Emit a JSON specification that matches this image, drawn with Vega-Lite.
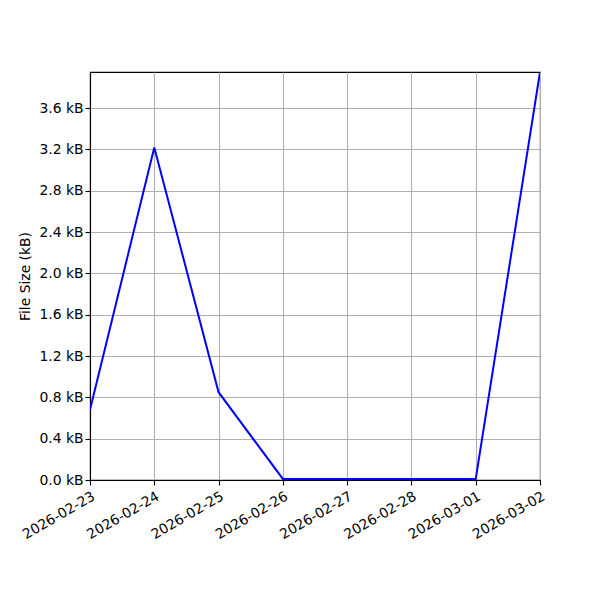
{
  "$schema": "https://vega.github.io/schema/vega-lite/v6.json",
  "autosize": "none",
  "width": 450,
  "height": 408,
  "padding": {"left": 90, "top": 72, "right": 60, "bottom": 120},
  "background": "white",
  "data": {
    "values": [
      {"date": "2026-02-23", "size_kb": 0.68},
      {"date": "2026-02-24", "size_kb": 3.22},
      {"date": "2026-02-25", "size_kb": 0.85},
      {"date": "2026-02-26", "size_kb": 0.01},
      {"date": "2026-02-27", "size_kb": 0.01},
      {"date": "2026-02-28", "size_kb": 0.01},
      {"date": "2026-03-01", "size_kb": 0.01},
      {"date": "2026-03-02", "size_kb": 3.95}
    ]
  },
  "mark": {"type": "line", "color": "#0000ff", "strokeWidth": 2, "clip": true},
  "encoding": {
    "x": {
      "field": "date",
      "type": "temporal",
      "scale": {"type": "utc", "domain": ["2026-02-23", "2026-03-02"], "nice": false},
      "axis": {
        "title": null,
        "values": ["2026-02-23", "2026-02-24", "2026-02-25", "2026-02-26", "2026-02-27", "2026-02-28", "2026-03-01", "2026-03-02"],
        "labelExpr": "utcFormat(datum.value, '%Y-%m-%d')",
        "labelAngle": -30,
        "labelAlign": "right",
        "labelBaseline": "top",
        "labelPadding": 4,
        "labelFlush": false,
        "labelOverlap": false
      }
    },
    "y": {
      "field": "size_kb",
      "type": "quantitative",
      "scale": {"domain": [0, 3.95], "nice": false, "zero": false},
      "axis": {
        "title": "File Size (kB)",
        "values": [0, 0.4, 0.8, 1.2, 1.6, 2.0, 2.4, 2.8, 3.2, 3.6],
        "labelExpr": "format(datum.value, '.1f') + ' kB'",
        "titlePadding": 6
      }
    }
  },
  "config": {
    "font": "DejaVu Sans",
    "view": {"stroke": "black", "strokeWidth": 1.1},
    "axis": {
      "domain": true,
      "domainColor": "black",
      "domainWidth": 1.1,
      "tickColor": "black",
      "tickSize": 5,
      "tickWidth": 1.1,
      "labelColor": "black",
      "labelFont": "DejaVu Sans",
      "labelFontSize": 13.9,
      "titleFont": "DejaVu Sans",
      "titleFontSize": 13.9,
      "titleFontWeight": "normal",
      "titleColor": "black",
      "grid": true,
      "gridColor": "#b0b0b0",
      "gridWidth": 1.1
    }
  }
}
